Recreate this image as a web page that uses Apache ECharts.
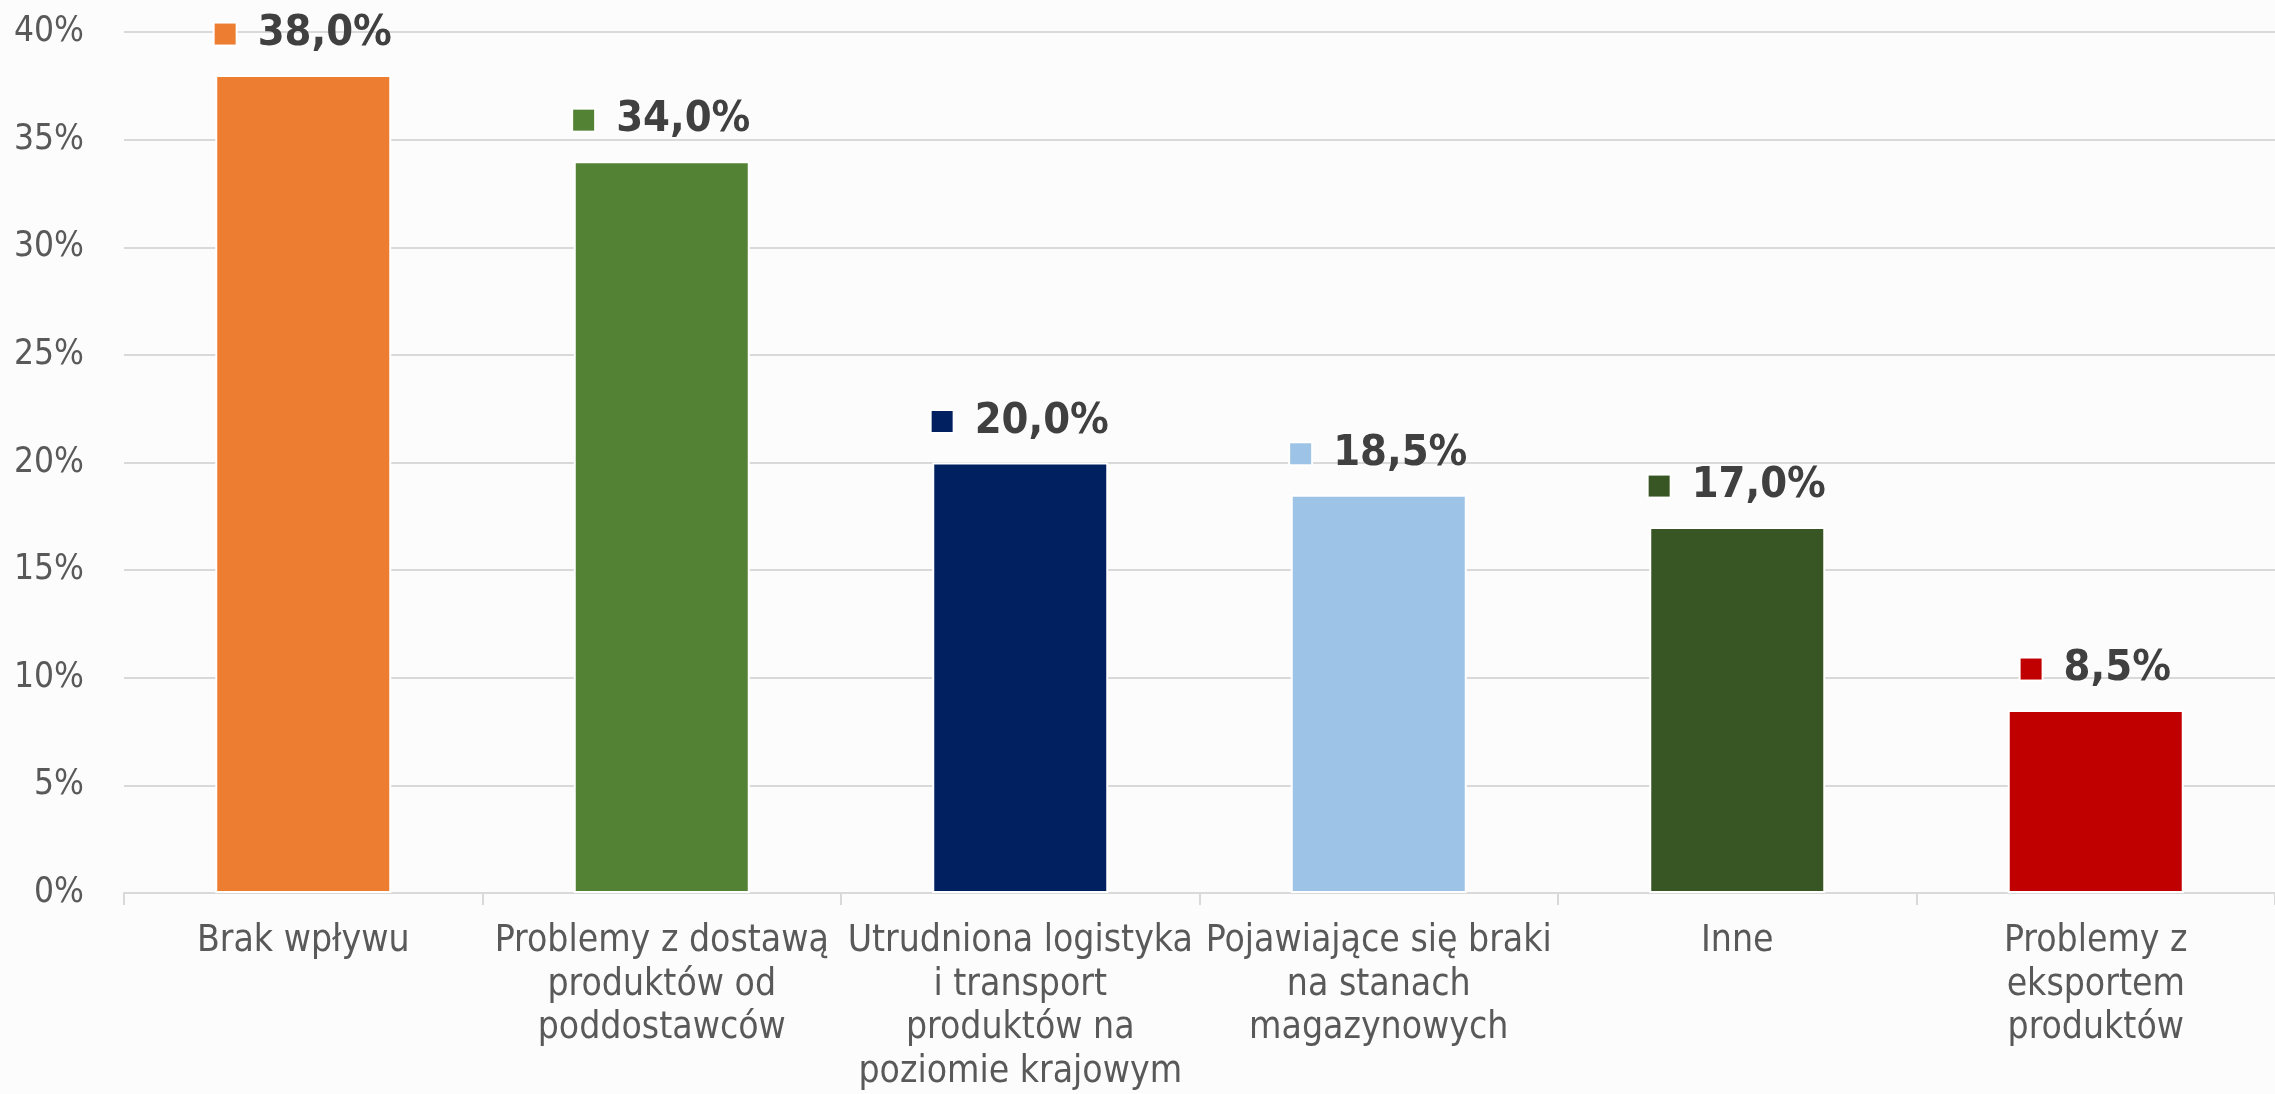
<!DOCTYPE html>
<html>
<head>
<meta charset="utf-8">
<script src="https://cdn.jsdelivr.net/npm/echarts@6/dist/echarts.min.js"></script>
<style>
html,body{margin:0;padding:0;background:#fcfcfc;}
#c{width:2275px;height:1094px;}
</style>
</head>
<body>
<div id="c"></div>
<script>
const categories = [
  "Brak wpływu",
  "Problemy z dostawą\nproduktów od\npoddostawców",
  "Utrudniona logistyka\ni transport\nproduktów na\npoziomie krajowym",
  "Pojawiające się braki\nna stanach\nmagazynowych",
  "Inne",
  "Problemy z\neksportem\nproduktów"
];
const values = [38.0, 34.0, 20.0, 18.5, 17.0, 8.5];
const colors = ["#ED7D31", "#548235", "#002060", "#9DC3E6", "#375623", "#C00000"];
const yTicks = { min: 0, max: 40, interval: 5 };

const FONT = "DejaVu Sans Condensed";
const rich = {
  v: { fontFamily: FONT, fontWeight: "bold", fontSize: 43, color: "#404040", lineHeight: 50, padding: [0, 0, 0, 22] }
};
colors.forEach((c, i) => {
  rich["s" + i] = { backgroundColor: c, width: 21, height: 21, borderColor: "#ffffff", borderWidth: 2 };
});

const data = values.map((v, i) => ({
  value: v,
  itemStyle: { color: colors[i] },
  label: {
    formatter: () => "{s" + i + "|}{v|" + v.toFixed(1).replace(".", ",") + "%}"
  }
}));

const chart = echarts.init(document.getElementById("c"));
chart.setOption({
  backgroundColor: "#fcfcfc",
  animation: false,
  grid: { left: 124, right: -12, top: 32, bottom: 195, containLabel: false },
  xAxis: {
    type: "category",
    data: categories,
    axisLine: { lineStyle: { color: "#D9D9D9", width: 2 } },
    axisTick: { show: true, length: 12, lineStyle: { color: "#D9D9D9", width: 2 } },
    axisLabel: {
      interval: 0,
      fontFamily: FONT,
      fontSize: 37,
      color: "#595959",
      lineHeight: 43.5,
      margin: 27
    }
  },
  yAxis: {
    type: "value",
    min: yTicks.min,
    max: yTicks.max,
    interval: yTicks.interval,
    axisLine: { show: false },
    axisTick: { show: false },
    splitLine: { lineStyle: { color: "#D9D9D9", width: 2 } },
    axisLabel: {
      formatter: "{value}%",
      fontFamily: FONT,
      fontSize: 35,
      color: "#595959",
      margin: 40
    }
  },
  series: [{
    type: "bar",
    data: data,
    barWidth: 176,
    itemStyle: { borderColor: "#ffffff", borderWidth: 2 },
    label: {
      show: true,
      position: "top",
      distance: 16,
      rich: rich
    }
  }]
});
</script>
</body>
</html>
